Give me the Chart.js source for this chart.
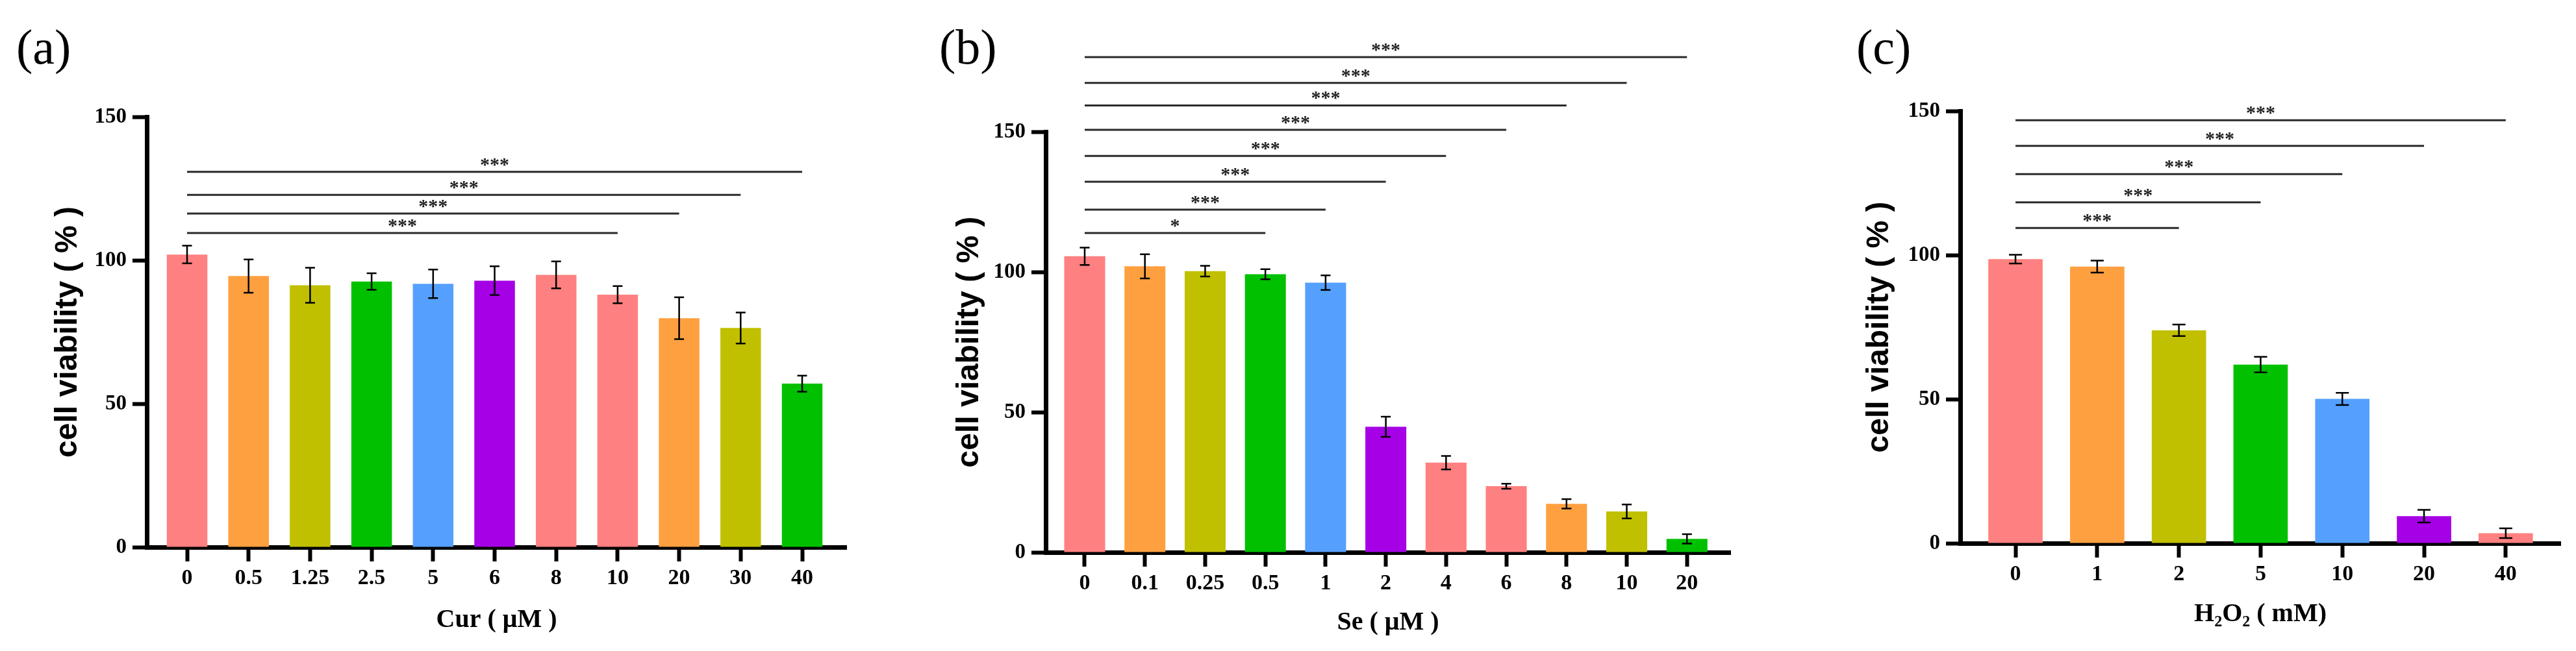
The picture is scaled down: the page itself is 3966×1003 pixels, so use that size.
<!DOCTYPE html>
<html>
<head>
<meta charset="utf-8">
<script src="https://cdn.jsdelivr.net/npm/chart.js@4.4.1/dist/chart.umd.min.js"></script>
<style>
  body { margin: 0; background: #fff; width: 3966px; height: 1003px; position: relative; overflow: hidden; }
  .panel { position: absolute; top: 0; height: 1003px; }
  .tag { position: absolute; top: 34px; font: 76px "Liberation Serif", "Times New Roman", serif; line-height: 1; color: #000; }
</style>
</head>
<body>
<div class="panel" style="left:0;width:1320px"><canvas id="chartA" width="1320" height="1003"></canvas></div>
<div class="panel" style="left:1320px;width:1360px"><canvas id="chartB" width="1360" height="1003"></canvas></div>
<div class="panel" style="left:2680px;width:1286px"><canvas id="chartC" width="1286" height="1003"></canvas></div>
<div class="tag" style="left:25px">(a)</div>
<div class="tag" style="left:1446px">(b)</div>
<div class="tag" style="left:2858px">(c)</div>

<script>
// --------------------- Data ---------------------
const catsA = ["0", "0.5", "1.25", "2.5", "5", "6", "8", "10", "20", "30", "40"];
const meanA = [102.0, 94.5, 91.3, 92.6, 91.8, 92.9, 94.9, 88.0, 79.8, 76.4, 57.0];
const errA = [3.1, 5.8, 6.1, 2.9, 5.0, 5.0, 4.7, 3.0, 7.3, 5.4, 2.8];
const sigEndA = [7, 8, 9, 10];
const sigLevelA = [109.5, 116.3, 122.8, 130.8];
const sigMarkA = ["***", "***", "***", "***"];

const catsB = ["0", "0.1", "0.25", "0.5", "1", "2", "4", "6", "8", "10", "20"];
const meanB = [105.6, 102.0, 100.3, 99.2, 96.2, 44.8, 32.0, 23.6, 17.3, 14.6, 4.8];
const errB = [3.1, 4.3, 1.9, 1.8, 2.6, 3.6, 2.4, 0.9, 1.7, 2.5, 1.7];
const sigEndB = [3, 4, 5, 6, 7, 8, 9, 10];
const sigLevelB = [113.9, 122.2, 132.2, 141.4, 150.7, 159.4, 167.4, 176.6];
const sigMarkB = ["*", "***", "***", "***", "***", "***", "***", "***"];

const catsC = ["0", "1", "2", "5", "10", "20", "40"];
const meanC = [98.6, 96.0, 73.9, 62.0, 50.1, 9.4, 3.5];
const errC = [1.5, 2.1, 2.0, 2.7, 2.1, 2.2, 1.7];
const sigEndC = [2, 3, 4, 5, 6];
const sigLevelC = [109.4, 118.3, 128.1, 137.9, 146.8];
const sigMarkC = ["***", "***", "***", "***", "***"];

const yTicks = [0, 50, 100, 150];

// bar colours, cycling the way the figure does
const pink = "#ff8080", orange = "#ffa040", olive = "#c0c000", green = "#00c000", blue = "#55a0ff", purple = "#a500e6";
const coloursAB = [pink, orange, olive, green, blue, purple, pink, pink, orange, olive, green];
const coloursC = [pink, orange, olive, green, blue, purple, pink];

const SERIF = '"Liberation Serif", "Times New Roman", serif';
const SANS = '"Liberation Sans", Arial, sans-serif';

// --------------------- Error bars + significance lines ---------------------
function makeExtras(mean, err, sigEnd, sigLevel, sigMark) {
  return {
    id: "extras",
    afterDraw(chart) {
      const { ctx, scales: { y } } = chart;
      const bars = chart.getDatasetMeta(0).data;
      ctx.save();

      ctx.strokeStyle = "#000";
      ctx.lineWidth = 2.5;
      bars.forEach((bar, i) => {
        const top = y.getPixelForValue(mean[i] + err[i]);
        const bot = y.getPixelForValue(mean[i] - err[i]);
        const cap = bar.width * 0.12;
        ctx.beginPath();
        ctx.moveTo(bar.x, top); ctx.lineTo(bar.x, bot);
        ctx.moveTo(bar.x - cap, top); ctx.lineTo(bar.x + cap, top);
        ctx.moveTo(bar.x - cap, bot); ctx.lineTo(bar.x + cap, bot);
        ctx.stroke();
      });

      ctx.strokeStyle = "#2a2a2a";
      ctx.lineWidth = 3;
      ctx.fillStyle = "#222";
      ctx.font = "bold 30px " + SERIF;
      ctx.textAlign = "center";
      ctx.textBaseline = "alphabetic";
      sigEnd.forEach((end, k) => {
        const x1 = bars[0].x, x2 = bars[end].x;
        const yy = y.getPixelForValue(sigLevel[k]);
        ctx.beginPath();
        ctx.moveTo(x1, yy); ctx.lineTo(x2, yy);
        ctx.stroke();
        ctx.fillText(sigMark[k], (x1 + x2) / 2, yy - 2);
      });

      ctx.restore();
    }
  };
}

// --------------------- Chart builder ---------------------
function barPanel(id, cats, mean, err, colours, sig, box) {
  new Chart(document.getElementById(id), {
    type: "bar",
    data: {
      datasets: [{
        data: mean.map((v, i) => ({ x: i, y: v })),
        backgroundColor: colours,
        borderWidth: 0,
        barPercentage: box.barPct,
        categoryPercentage: 1
      }]
    },
    options: {
      responsive: false,
      animation: false,
      events: [],
      devicePixelRatio: 1,
      layout: { padding: { top: box.top, right: box.right, left: 0, bottom: 0 } },
      plugins: { legend: { display: false }, tooltip: { enabled: false } },
      scales: {
        x: {
          type: "linear",
          offset: false,
          min: box.xMin,
          max: box.xMax,
          z: 1,
          afterFit: s => { s.height = box.xHeight; },
          border: { display: true, width: 7, color: "#000" },
          grid: { offset: false, drawOnChartArea: false, drawTicks: true, tickLength: 22, tickWidth: 6, tickColor: "#000" },
          ticks: {
            stepSize: 1,
            includeBounds: false,
            padding: 6,
            color: "#000",
            font: { family: SERIF, size: 34, weight: "bold" },
            callback: v => cats[v] ?? ""
          },
          title: {
            display: true,
            text: box.xTitle,
            color: "#000",
            font: { family: SERIF, size: 40, weight: "bold" },
            padding: { top: 0, bottom: box.xTitlePad }
          }
        },
        y: {
          min: yTicks[0],
          max: yTicks[yTicks.length - 1],
          z: 1,
          afterFit: s => { s.width = box.yWidth; },
          afterBuildTicks: s => { s.ticks = yTicks.map(v => ({ value: v })); },
          border: { display: true, width: 7, color: "#000" },
          grid: { drawOnChartArea: false, drawTicks: true, tickLength: 22, tickWidth: 6, tickColor: "#000" },
          ticks: {
            padding: 9,
            color: "#000",
            font: { family: SERIF, size: 33, weight: "bold" }
          },
          title: {
            display: true,
            text: "cell viability ( % )",
            color: "#000",
            font: { family: SANS, size: 48, weight: "bold" },
            padding: { top: box.yTitlePad, bottom: 0 }
          }
        }
      }
    },
    plugins: [makeExtras(mean, err, sig[0], sig[1], sig[2])]
  });
}

barPanel("chartA", catsA, meanA, errA, coloursAB, [sigEndA, sigLevelA, sigMarkA], {
  top: 180, right: 17, yWidth: 226, xHeight: 160,
  xMin: -0.655, xMax: 10.718, barPct: 0.66,
  xTitle: "Cur ( μM )", xTitlePad: 23, yTitlePad: 76
});

barPanel("chartB", catsB, meanB, errB, coloursAB, [sigEndB, sigLevelB, sigMarkB], {
  top: 203, right: 16, yWidth: 290, xHeight: 152,
  xMin: -0.647, xMax: 10.72, barPct: 0.68,
  xTitle: "Se ( μM )", xTitlePad: 19, yTitlePad: 144
});

barPanel("chartC", catsC, meanC, errC, coloursC, [sigEndC, sigLevelC, sigMarkC], {
  top: 171, right: 24, yWidth: 338, xHeight: 166,
  xMin: -0.676, xMax: 6.669, barPct: 0.665,
  xTitle: "H₂O₂ ( mM)", xTitlePad: 32, yTitlePad: 185
});
</script>
</body>
</html>
